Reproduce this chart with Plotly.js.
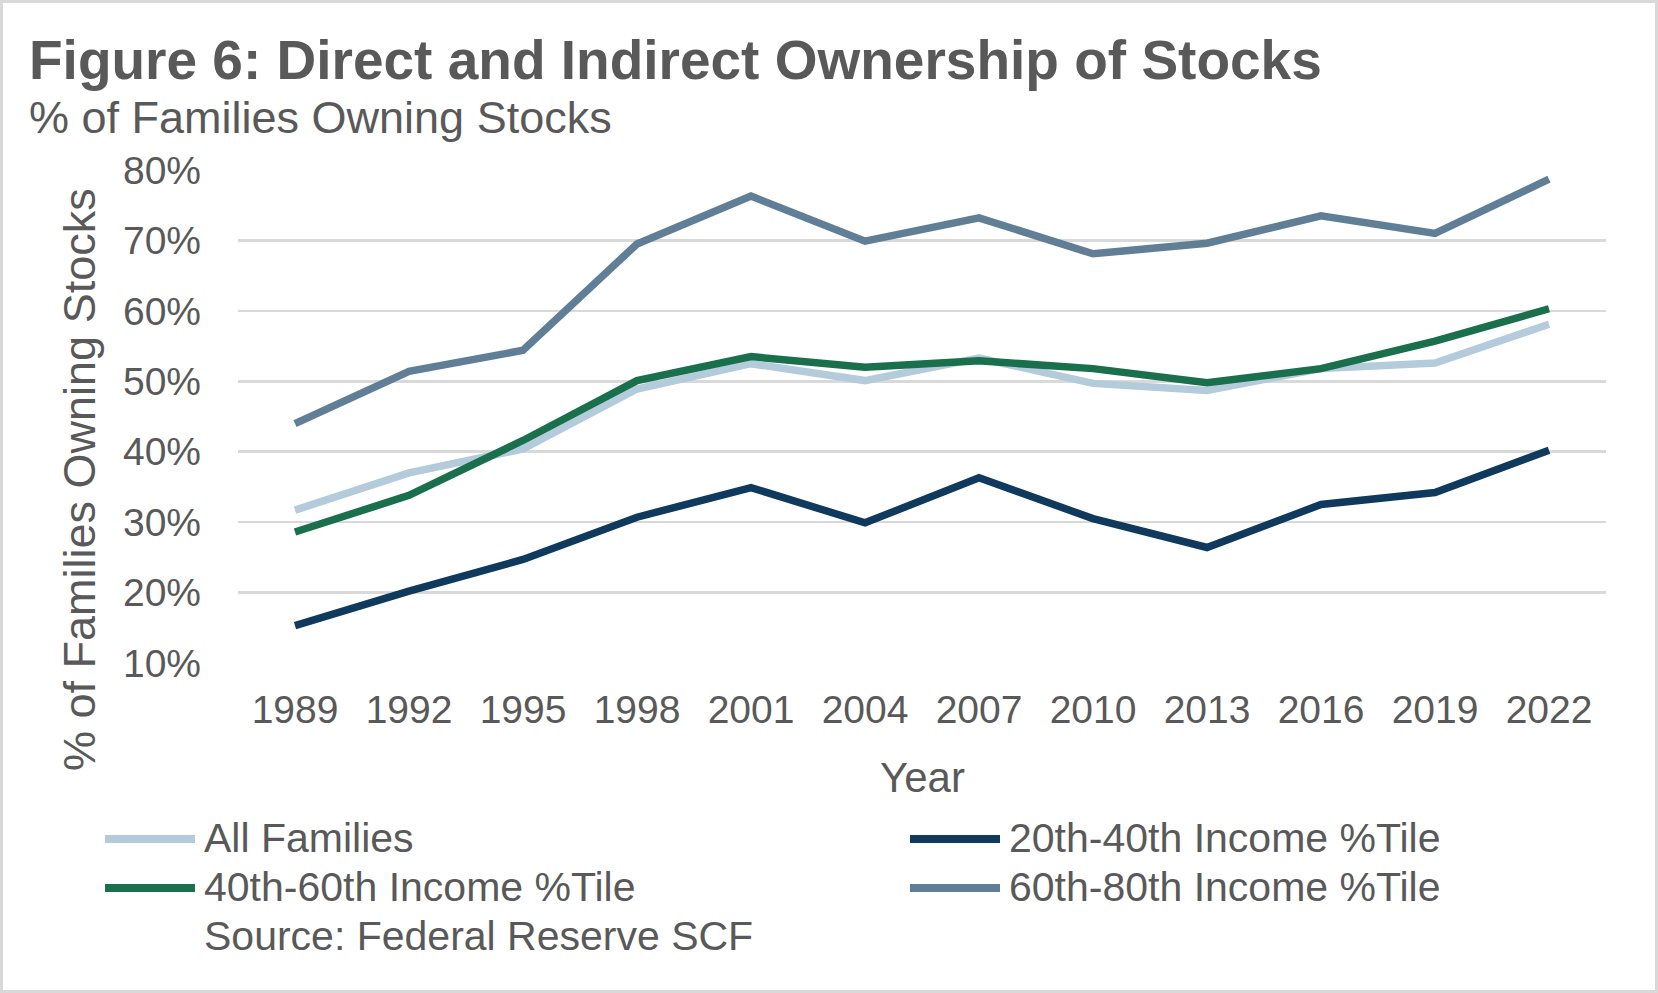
<!DOCTYPE html>
<html>
<head>
<meta charset="utf-8">
<script src="https://cdn.plot.ly/plotly-3.0.1.min.js"></script>
<style>
  html, body { margin: 0; padding: 0; background: #ffffff; overflow: hidden; }
  #wrap { position: relative; width: 1658px; height: 993px; }
  #chart { position: absolute; left: 0; top: 0; width: 1658px; height: 993px; }
  #frame { position: absolute; left: 0; top: 0; width: 1658px; height: 993px; box-sizing: border-box; border: 3px solid #d9d9d9; pointer-events: none; }
</style>
</head>
<body>
<div id="wrap">
  <div id="chart"></div>
  <div id="frame"></div>
</div>
<script>
// ---- Data ----
const years = ["1989","1992","1995","1998","2001","2004","2007","2010","2013","2016","2019","2022"];

const allFamilies = [31.7, 37.0, 40.4, 48.9, 52.5, 50.1, 53.3, 49.7, 48.7, 51.8, 52.6, 58.1];
const pct20to40   = [15.3, 20.2, 24.7, 30.7, 34.9, 29.9, 36.3, 30.5, 26.4, 32.5, 34.2, 40.2];
const pct40to60   = [28.6, 33.8, 41.6, 50.1, 53.5, 52.0, 52.9, 51.8, 49.8, 51.8, 55.7, 60.3];
const pct60to80   = [44.0, 51.4, 54.4, 69.5, 76.3, 69.9, 73.2, 68.1, 69.6, 73.5, 71.0, 78.7];

const seriesNames = ["All Families", "20th-40th Income %Tile", "40th-60th Income %Tile", "60th-80th Income %Tile"];
const yTickValues = [10, 20, 30, 40, 50, 60, 70, 80];

const titleText = "Figure 6: Direct and Indirect Ownership of Stocks";
const subtitleText = "% of Families Owning Stocks";
const yAxisTitle = "% of Families Owning Stocks";
const xAxisTitle = "Year";
const sourceText = "Source: Federal Reserve SCF";

// ---- Styling ----
const colors = ["#b3cbdb", "#0f3a5d", "#1a6f4c", "#607f96"];
const textColor = "#595959";
const FONT = "Liberation Sans, Arial, sans-serif";

// plot area geometry (pixels)
const W = 1658, H = 993;
const L = 238, R = 1606, T = 170, B = 663;
const px2x = p => (p - L) / (R - L);
const px2y = p => (B - p) / (B - T);

const seriesData = [allFamilies, pct20to40, pct40to60, pct60to80];
const drawOrder = [0, 1, 2, 3];

const traces = drawOrder.map(i => ({
  type: "scatter",
  mode: "lines",
  x: years,
  y: seriesData[i],
  name: seriesNames[i],
  line: { color: colors[i], width: 7.5 },
  hoverinfo: "x+y+name",
  showlegend: false
}));

// custom legend laid out as in the reference (2 columns)
const legendCols = [102, 907];
const legendRows = [839, 888];
const legendPos = [[0,0],[1,0],[0,1],[1,1]];
const shapes = [];
const annotations = [];
seriesNames.forEach((nm, i) => {
  const [c, r] = legendPos[i];
  const x0 = legendCols[c];
  const yc = legendRows[r];
  shapes.push({
    type: "line", xref: "paper", yref: "paper",
    x0: px2x(x0 + 3), x1: px2x(x0 + 93), y0: px2y(yc), y1: px2y(yc),
    line: { color: colors[i], width: 8 }
  });
  annotations.push({
    xref: "paper", yref: "paper", x: px2x(x0 + 100), y: px2y(yc - 26),
    xanchor: "left", yanchor: "top", showarrow: false,
    text: nm, font: { family: FONT, size: 41, color: textColor }
  });
});
annotations.push({
  xref: "paper", yref: "paper", x: px2x(202), y: px2y(911),
  xanchor: "left", yanchor: "top", showarrow: false,
  text: sourceText, font: { family: FONT, size: 41, color: textColor }
});
// title & subtitle
annotations.push({
  xref: "paper", yref: "paper", x: px2x(27), y: px2y(27),
  xanchor: "left", yanchor: "top", showarrow: false,
  text: "<b>" + titleText + "</b>", font: { family: FONT, size: 55, color: textColor }
});
annotations.push({
  xref: "paper", yref: "paper", x: px2x(27), y: px2y(90),
  xanchor: "left", yanchor: "top", showarrow: false,
  text: subtitleText, font: { family: FONT, size: 45, color: textColor }
});
// axis titles
annotations.push({
  xref: "paper", yref: "paper", x: px2x(79), y: px2y(480),
  xanchor: "center", yanchor: "middle", showarrow: false, textangle: -90,
  text: yAxisTitle, font: { family: FONT, size: 45, color: textColor }
});
annotations.push({
  xref: "paper", yref: "paper", x: px2x(922), y: px2y(752),
  xanchor: "center", yanchor: "top", showarrow: false,
  text: xAxisTitle, font: { family: FONT, size: 42, color: textColor }
});

const layout = {
  width: W, height: H,
  margin: { l: L, r: W - R, t: T, b: H - B, pad: 0 },
  paper_bgcolor: "#ffffff",
  plot_bgcolor: "#ffffff",
  showlegend: false,
  font: { family: FONT, color: textColor },
  xaxis: {
    type: "category",
    categoryorder: "array",
    categoryarray: years,
    range: [-0.5, years.length - 0.5],
    showgrid: false, zeroline: false, showline: false, ticks: "",
    tickfont: { family: FONT, size: 39, color: textColor },
    ticklabelstandoff: 20,
    fixedrange: true
  },
  yaxis: {
    range: [10, 80],
    tickvals: yTickValues,
    ticktext: yTickValues.map(v => v + "%"),
    showgrid: true, gridcolor: "#d9d9d9", gridwidth: 2.5,
    zeroline: false, showline: false, ticks: "",
    tickfont: { family: FONT, size: 39, color: textColor },
    ticklabelstandoff: 36,
    fixedrange: true
  },
  shapes: shapes,
  annotations: annotations
};

Plotly.newPlot("chart", traces, layout, { displayModeBar: false, staticPlot: true });
</script>
</body>
</html>
